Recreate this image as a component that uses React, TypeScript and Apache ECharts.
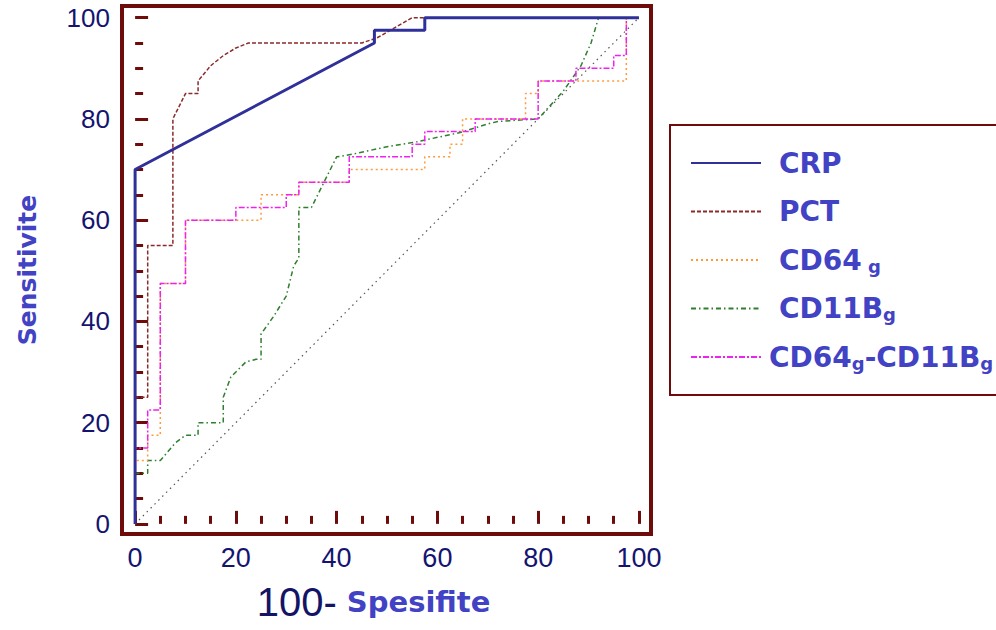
import React, { useEffect, useRef } from "react";
import * as echarts from "echarts";

// ---- data ----
const SERIES_NAMES = ["CRP", "PCT", "CD64g", "CD11Bg", "CD64g-CD11Bg"];

const CRP: number[][] = [[0, 0], [0, 70], [47.5, 95], [47.5, 97.5], [57.5, 97.5], [57.5, 100], [100, 100]];

const PCT: number[][] = [
  [0, 0], [0, 25], [2.5, 25], [2.5, 55], [7.5, 55], [7.5, 80], [10, 85], [12.5, 85], [12.5, 87.5],
  [15, 90.5], [17.5, 92.5], [20, 94], [22.5, 95], [45, 95], [48, 96], [55, 100], [100, 100],
];

const CD64: number[][] = [
  [0, 0], [0, 12.5], [2.5, 12.5], [2.5, 17.5], [5, 17.5], [5, 47.5], [10, 47.5], [10, 60], [25, 60],
  [25, 65], [32.5, 65], [32.5, 67.5], [42.5, 67.5], [42.5, 70], [57.5, 70], [57.5, 72.5], [62.5, 72.5],
  [62.5, 75], [65, 75], [65, 80], [77.5, 80], [77.5, 85], [80, 85], [80, 87.5], [97.5, 87.5], [97.5, 100], [100, 100],
];

const CD11B: number[][] = [
  [0, 0], [0, 10], [2.5, 10], [2.5, 12.5], [5, 12.5], [8, 16], [10, 17.5], [12.5, 17.5], [12.5, 20],
  [17.5, 20], [17.5, 25], [19, 29], [22, 32], [24, 32.5], [25, 32.5], [25, 37.5], [27.5, 41], [30, 45],
  [31.5, 51], [32.5, 52.5], [32.5, 62.5], [35, 62.5], [37.5, 67.5], [40, 72.5], [43, 73], [50, 74.5],
  [56, 75.5], [64.5, 77.3], [70, 79], [72, 79.5], [80, 80], [85, 85.5], [88.5, 90.5], [90.5, 95], [92, 100], [100, 100],
];

const CD64_CD11B: number[][] = [
  [0, 0], [0, 15], [2.5, 15], [2.5, 22.5], [5, 22.5], [5, 47.5], [10, 47.5], [10, 60], [20, 60],
  [20, 62.5], [30, 62.5], [30, 65], [32.5, 65], [32.5, 67.5], [42.5, 67.5], [42.5, 72.5], [55, 72.5],
  [55, 75], [57.5, 75], [57.5, 77.5], [67.5, 77.5], [67.5, 80], [80, 80], [80, 87.5], [87.5, 87.5],
  [87.5, 90], [95, 90], [95, 92.5], [97.5, 92.5], [97.5, 100], [100, 100],
];

const REFERENCE_LINE: number[][] = [[0, 0], [100, 100]];

const MAJOR_TICKS = [0, 20, 40, 60, 80, 100];
const MINOR_TICKS = [5, 10, 15, 25, 30, 35, 45, 50, 55, 65, 70, 75, 85, 90, 95];

const X_TITLE_NUM = "100-";
const X_TITLE_TEXT = "Spesifite";
const Y_TITLE = "Sensitivite";

// ---- styles ----
const FRAME = "#6e0c0c";
const NAVY = "#141470";
const BLUE = "#4242c4";

const LEGEND_RICH_TEXT: Record<string, string> = {
  CRP: "{sp| }{t|CRP}",
  PCT: "{sp| }{t|PCT}",
  CD64g: "{sp| }{t|CD64}{s| g}",
  CD11Bg: "{sp| }{t|CD11B}{s|g}",
  "CD64g-CD11Bg": "{sp2| }{t|CD64}{s|g}{t|-CD11B}{s|g}",
};

export default function App() {
  const ref = useRef<HTMLDivElement>(null);

  useEffect(() => {
    if (!ref.current) return;
    const chart = echarts.init(ref.current, undefined, { renderer: "svg" });

    const xMin = -2.6, xMax = 102.4, yMin = -2, yMax = 102.3;

    const majorAxisCommon = {
      type: "value",
      axisLine: { show: false },
      splitLine: { show: false },
      axisTick: {
        show: true,
        inside: true,
        length: 13,
        customValues: MAJOR_TICKS,
        lineStyle: { color: FRAME, width: 3 },
      },
      axisLabel: {
        show: true,
        customValues: MAJOR_TICKS,
        color: NAVY,
        fontFamily: "Liberation Sans, Arial, sans-serif",
        fontSize: 26,
      },
    };
    const minorAxisCommon = {
      type: "value",
      axisLine: { show: false },
      splitLine: { show: false },
      axisLabel: { show: false },
      axisTick: {
        show: true,
        inside: true,
        length: 8,
        customValues: MINOR_TICKS,
        lineStyle: { color: FRAME, width: 3 },
      },
    };

    const lineSeries = (name: string, data: number[][], color: string, width: number, type: any, z: number) => ({
      name,
      type: "line",
      data,
      symbol: "none",
      z,
      lineStyle: { color, width, type },
      itemStyle: { color },
    });

    chart.setOption({
      animation: false,
      backgroundColor: "#ffffff",
      grid: {
        left: 122,
        top: 6,
        right: 345,
        bottom: 96,
        show: true,
        borderColor: FRAME,
        borderWidth: 4,
        backgroundColor: "#ffffff",
      },
      xAxis: [
        {
          ...majorAxisCommon,
          min: xMin,
          max: xMax,
          position: "bottom",
          axisLabel: { ...majorAxisCommon.axisLabel, margin: 10, fontSize: 27 },
          name: `{a|${X_TITLE_NUM}}{b| ${X_TITLE_TEXT}}`,
          nameLocation: "middle",
          nameGap: 48,
          nameTextStyle: {
            padding: [0, 26, 0, 0],
            rich: {
              a: { fontFamily: "Liberation Sans, Arial, sans-serif", fontSize: 40, color: "#141466" },
              b: { fontFamily: "DejaVu Sans", fontWeight: "bold", fontSize: 29, color: BLUE },
            },
          },
        },
        { ...minorAxisCommon, min: xMin, max: xMax, position: "bottom" },
      ],
      yAxis: [
        {
          ...majorAxisCommon,
          min: yMin,
          max: yMax,
          position: "left",
          axisLabel: { ...majorAxisCommon.axisLabel, margin: 12 },
          name: Y_TITLE,
          nameLocation: "middle",
          nameRotate: 90,
          nameGap: 82,
          nameTextStyle: { fontFamily: "DejaVu Sans", fontWeight: "bold", fontSize: 25, color: BLUE },
        },
        { ...minorAxisCommon, min: yMin, max: yMax, position: "left" },
      ],
      legend: {
        orient: "vertical",
        left: 670,
        top: 125,
        data: SERIES_NAMES,
        padding: [23, 90, 23, 20],
        itemGap: 18.5,
        itemWidth: 70,
        itemHeight: 14,
        borderColor: FRAME,
        borderWidth: 2,
        backgroundColor: "#ffffff",
        itemStyle: { color: "rgba(0,0,0,0)", borderWidth: 0, opacity: 0 },
        formatter: (name: string) => LEGEND_RICH_TEXT[name] ?? name,
        textStyle: {
          lineHeight: 30,
          rich: {
            sp: { width: 13 },
            sp2: { width: 3 },
            t: { fontFamily: "DejaVu Sans", fontWeight: "bold", fontSize: 28, color: BLUE, lineHeight: 30 },
            s: {
              fontFamily: "DejaVu Sans",
              fontWeight: "bold",
              fontSize: 18,
              color: BLUE,
              lineHeight: 18,
              verticalAlign: "bottom",
            },
          },
        },
      },
      series: [
        {
          name: "ref",
          type: "line",
          data: REFERENCE_LINE,
          symbol: "none",
          z: 1,
          silent: true,
          lineStyle: { color: "#555555", width: 1.2, type: [1.5, 4] },
        },
        lineSeries("CD11Bg", CD11B, "#2f7f2f", 1.5, [5, 3, 1.5, 3], 2),
        lineSeries("CD64g", CD64, "#ff9a3c", 1.5, [2, 3], 3),
        lineSeries("CD64g-CD11Bg", CD64_CD11B, "#ee22ee", 1.5, [6, 2, 2, 2], 4),
        lineSeries("PCT", PCT, "#8b2a2a", 1.5, [4, 2], 5),
        lineSeries("CRP", CRP, "#30309a", 3, "solid", 6),
      ],
    });

    return () => {
      chart.dispose();
    };
  }, []);

  return (
    <div
      ref={ref}
      style={{ position: "fixed", left: 0, top: 0, width: 996, height: 630, background: "#fff" }}
    />
  );
}
